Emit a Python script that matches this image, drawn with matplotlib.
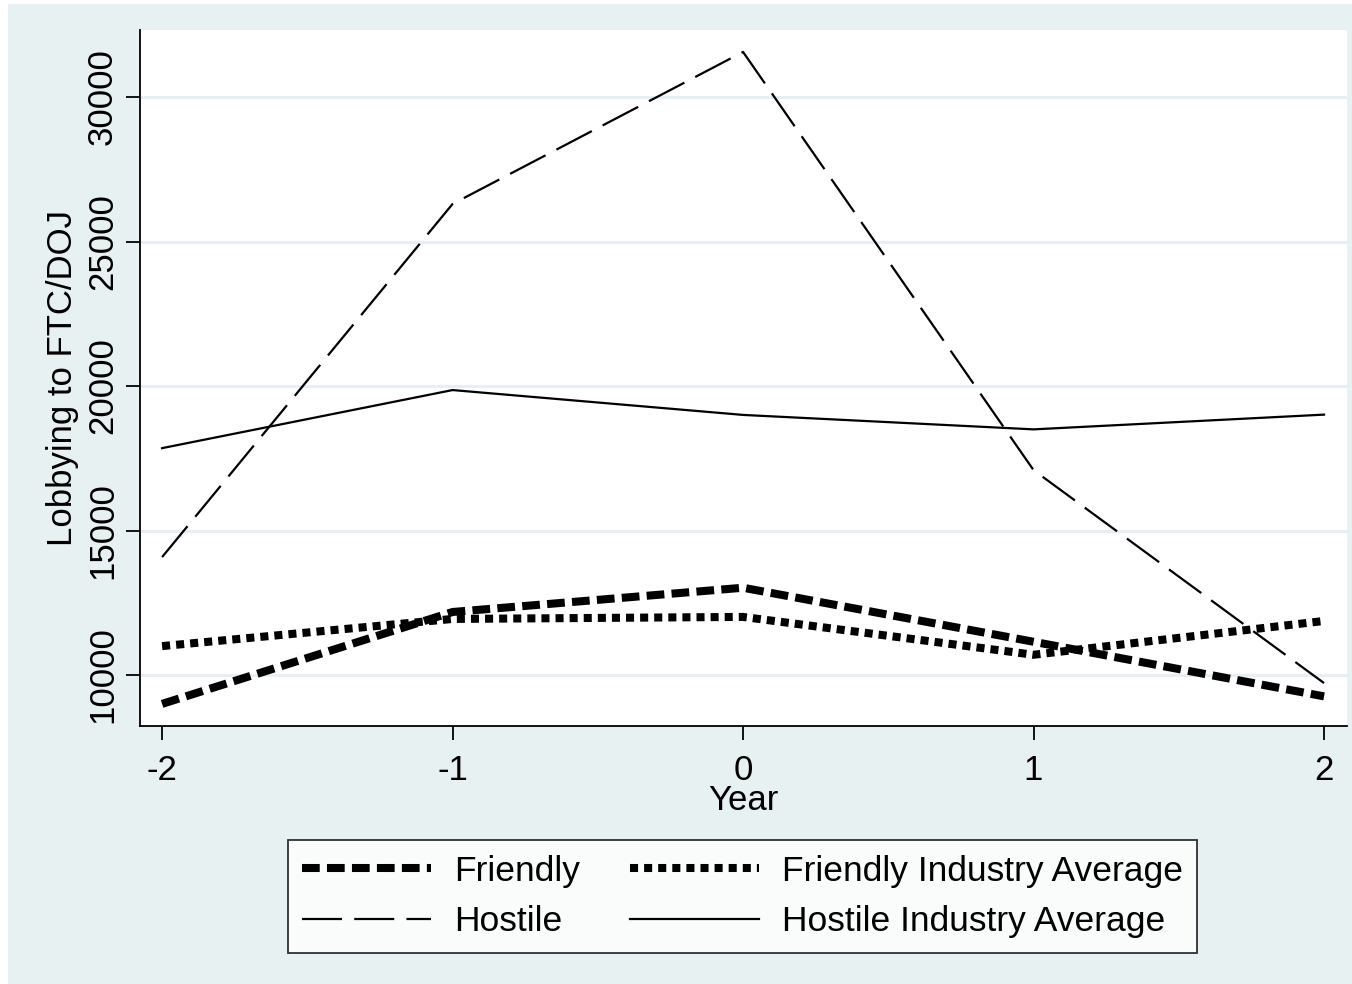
import matplotlib.pyplot as plt
import matplotlib.patches as patches

plt.rcParams['font.family'] = ['Liberation Sans', 'DejaVu Sans']

# data
years = [-2, -1, 0, 1, 2]
year_labels = ['-2', '-1', '0', '1', '2']
friendly = [9000, 12180, 13020, 11150, 9260]
friendly_ind = [11000, 11940, 12010, 10700, 11870]
hostile = [14080, 26300, 31560, 17090, 9720]
hostile_ind = [17850, 19860, 19000, 18500, 19010]
y_ticks = [10000, 15000, 20000, 25000, 30000]

bg = '#e8f1f2'
grid_col = '#e6eff1'

fig = plt.figure(figsize=(13.52, 9.84), dpi=100, facecolor='white')
# light outer panel, Stata style
fig.patches.append(patches.Rectangle((8 / 1352, 0), 1 - 8 / 1352, 1 - 4 / 984,
                                     transform=fig.transFigure, facecolor=bg,
                                     edgecolor='none', zorder=-10))

ax = fig.add_axes([140 / 1352, 1 - 726 / 984, 1207 / 1352, 696 / 984])
ax.set_facecolor('white')

ax.plot(years, friendly, color='black', lw=5.8, dashes=(2.2, 0.9),
        solid_capstyle='butt', dash_capstyle='butt', label='Friendly', zorder=3)
ax.plot(years, friendly_ind, color='black', lw=5.8, dashes=(1.0, 0.75),
        dash_capstyle='butt', label='Friendly Industry Average', zorder=3)
ax.plot(years, hostile, color='black', lw=1.6, dashes=(18, 5.5),
        label='Hostile', zorder=3)
ax.plot(years, hostile_ind, color='black', lw=1.6, label='Hostile Industry Average', zorder=3)

ax.set_xlim(-2.076, 2.079)
ax.set_ylim(8235, 32320)

ax.set_xticks(years)
ax.set_xticklabels(year_labels)
ax.set_yticks(y_ticks)
ax.set_yticklabels([str(v) for v in y_ticks], rotation=90, va='center')
ax.tick_params(axis='both', length=10, width=1.3, labelsize=25, color='black')
ax.tick_params(axis='y', pad=5)
ax.tick_params(axis='x', pad=10)

ax.yaxis.grid(True, color=grid_col, lw=2.2)
ax.set_axisbelow(True)

for s in ['top', 'right']:
    ax.spines[s].set_visible(False)
for s in ['left', 'bottom']:
    ax.spines[s].set_linewidth(1.3)

ax.set_xlabel('Year', fontsize=25, labelpad=-2)
ax.set_ylabel('Lobbying to FTC/DOJ', fontsize=25, labelpad=5)

# legend order: Friendly / Hostile in first column, averages in second
h, l = ax.get_legend_handles_labels()
order = [0, 2, 1, 3]
leg = fig.legend([h[i] for i in order], [l[i] for i in order], ncol=2,
                 loc='center', bbox_to_anchor=(742.5 / 1352, 1 - 896.5 / 984),
                 fontsize=25.5, frameon=True, fancybox=False, edgecolor='black',
                 handlelength=3.65, handletextpad=0.65, columnspacing=1.4,
                 labelspacing=0.5, borderpad=0.4)
leg.get_frame().set_linewidth(1.3)
leg.get_frame().set_facecolor('white')

fig.savefig('out.png', dpi=100, facecolor=fig.get_facecolor())
